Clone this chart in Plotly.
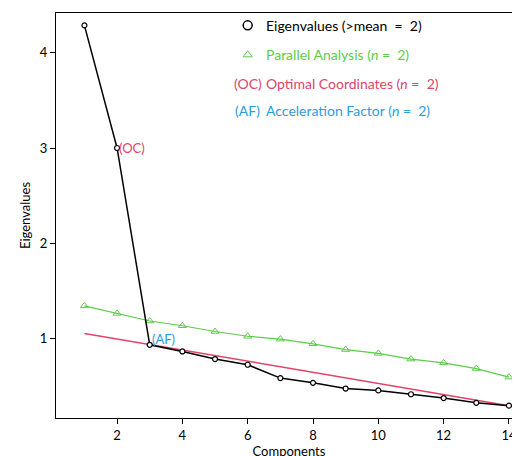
import plotly.graph_objects as go

components = list(range(1, 15))
eigenvalues = [4.29, 3.0, 0.93, 0.86, 0.78, 0.72, 0.58, 0.53, 0.47, 0.45, 0.41, 0.37, 0.32, 0.29]
parallel = [1.34, 1.26, 1.18, 1.13, 1.07, 1.02, 0.99, 0.94, 0.88, 0.84, 0.78, 0.74, 0.68, 0.59]
oc_line_x = [1, 14]
oc_line_y = [1.05, 0.29]

green = "#5ccc4a"
red = "#e0436a"
blue = "#2a9ee0"
font = "Lato"

fig = go.Figure()
fig.add_trace(go.Scatter(x=oc_line_x, y=oc_line_y, mode="lines",
                         line=dict(color=red, width=1.5), showlegend=False))
fig.add_trace(go.Scatter(x=components, y=parallel, mode="lines+markers",
                         line=dict(color=green, width=1.2),
                         marker=dict(symbol="triangle-up-open", size=7, color=green),
                         showlegend=False))
fig.add_trace(go.Scatter(x=components, y=eigenvalues, mode="lines+markers",
                         line=dict(color="black", width=1.5),
                         marker=dict(symbol="circle", size=5, color="white",
                                     line=dict(color="black", width=1.2)),
                         showlegend=False))

fig.add_annotation(x=2, y=3.0, text="(OC)", showarrow=False, xanchor="left",
                   font=dict(color=red, size=13, family=font))
fig.add_annotation(x=3, y=0.93, text="(AF)", showarrow=False, xanchor="left", yanchor="bottom",
                   yshift=-4, font=dict(color=blue, size=13, family=font))

# legend
leg_y = [4.29, 3.98, 3.68, 3.39]
fig.add_trace(go.Scatter(x=[6.0], y=[leg_y[0]], mode="markers", showlegend=False,
                         marker=dict(symbol="circle-open", size=9, color="black",
                                     line=dict(width=1.5))))
fig.add_trace(go.Scatter(x=[6.0], y=[leg_y[1]], mode="markers", showlegend=False,
                         marker=dict(symbol="triangle-up-open", size=8, color=green)))
texts = [("Eigenvalues (>mean  =  2)", "black"),
         ("Parallel Analysis (<i>n</i> =  2)", green),
         ("Optimal Coordinates (<i>n</i> =  2)", red),
         ("Acceleration Factor (<i>n</i> =  2)", blue)]
for yy, (t, c) in zip(leg_y, texts):
    fig.add_annotation(x=6.5, y=yy, text=t, showarrow=False, xanchor="left",
                       font=dict(color=c, size=14, family=font))
fig.add_annotation(x=6.0, y=leg_y[2], text="(OC)", showarrow=False,
                   font=dict(color=red, size=14, family=font))
fig.add_annotation(x=6.0, y=leg_y[3], text="(AF)", showarrow=False,
                   font=dict(color=blue, size=14, family=font))

axis_common = dict(showgrid=False, zeroline=False, showline=True, mirror=True,
                   linecolor="black", linewidth=1, ticks="outside", ticklen=5,
                   tickcolor="black", tickfont=dict(size=13, family=font, color="black"))
fig.update_xaxes(range=[0.13, 14.4], tickvals=[2, 4, 6, 8, 10, 12, 14],
                 title=dict(text="Components", standoff=4,
                            font=dict(size=13, family=font, color="black")),
                 **axis_common)
fig.update_yaxes(range=[0.16, 4.42], tickvals=[1, 2, 3, 4],
                 title=dict(text="Eigenvalues", standoff=6,
                            font=dict(size=13, family=font, color="black")),
                 **axis_common)
fig.update_layout(width=520, height=456, plot_bgcolor="white", paper_bgcolor="white",
                  margin=dict(l=48, r=6, t=5, b=46), font=dict(family=font))

fig.write_html("out.html")
